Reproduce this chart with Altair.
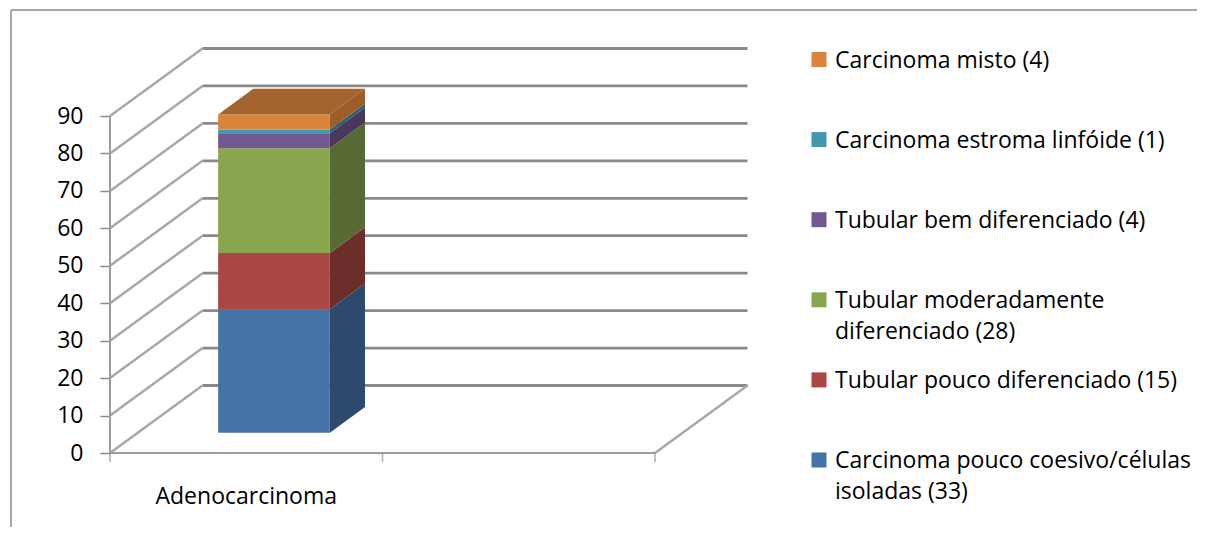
import altair as alt
import pandas as pd

# ---------------- data ----------------
CATEGORIES = ["Adenocarcinoma", ""]          # the floor holds two category slots, only the first has data
SERIES = [
    "Carcinoma pouco coesivo/células isoladas",
    "Tubular pouco diferenciado",
    "Tubular moderadamente diferenciado",
    "Tubular bem diferenciado",
    "Carcinoma estroma linfóide",
    "Carcinoma misto",
]
VALUES = [33, 15, 28, 4, 1, 4]
LEGEND_NAMES = [
    "Carcinoma pouco coesivo/células\nisoladas",
    "Tubular pouco diferenciado",
    "Tubular moderadamente\ndiferenciado",
    "Tubular bem diferenciado",
    "Carcinoma estroma linfóide",
    "Carcinoma misto",
]
Y_TICKS = [0, 10, 20, 30, 40, 50, 60, 70, 80, 90]

# ---------------- style ----------------
FRONT = ["#4572A7", "#AA4643", "#89A54E", "#71588F", "#4198AF", "#DB843D"]
SIDE = ["#2D4A6E", "#6C2D2B", "#586A33", "#48395C", "#2A6272", "#9C5D2A"]
TOP = "#A5632D"
FONT = "Open Sans"
FS = 23

# ---------------- layout (pixels) ----------------
W, H = 1189, 519
X0_PX, SLOT_PX = 102, 272.5          # front-left corner of the floor, width of one category slot
Y0_PX, UNIT_PX = 445, 3.7444         # value 0 on the front plane, pixels per unit
DEPTH_X_PX, DEPTH_Y_PX = 92.5, 67.5  # oblique depth shift of the back wall
BAR_W, D1, D2 = 0.41, 0.30, 0.68     # bar width (slot fraction), front/back depth fraction

N = len(CATEGORIES)
DX = DEPTH_X_PX / SLOT_PX
DY = DEPTH_Y_PX / UNIT_PX
xs = alt.Scale(domain=[-X0_PX / SLOT_PX, (W - X0_PX) / SLOT_PX], nice=False, zero=False)
ys = alt.Scale(domain=[(Y0_PX - H) / UNIT_PX, Y0_PX / UNIT_PX], nice=False, zero=False)

Y_AXIS = alt.Axis(values=Y_TICKS, offset=-X0_PX, domain=False, grid=False, ticks=True,
                  tickSize=10, tickColor="#8c8c8c", tickWidth=1.5, labelPadding=17,
                  labelFont=FONT, labelFontSize=FS, labelColor="#000000", title=None)


def X(f):
    return alt.X(f, scale=xs, axis=None)


def Y(f):
    return alt.Y(f, scale=ys, axis=Y_AXIS)


# ---------------- walls & floor ----------------
grid = pd.DataFrame({"v": Y_TICKS})
grid["x0"] = 0.0
grid["xa"] = DX
grid["xb"] = N + DX
grid["yb"] = grid["v"] + DY

back_grid = alt.Chart(grid).mark_rule(color="#8a8a8a", strokeWidth=2.8).encode(
    x=X("xa:Q"), x2="xb:Q", y=Y("yb:Q"))
left_wall = alt.Chart(grid).mark_rule(color="#a8a8a8", strokeWidth=2.5).encode(
    x=X("x0:Q"), x2="xa:Q", y=Y("v:Q"), y2="yb:Q")

floor = pd.DataFrame({"xa": [0.0], "xb": [float(N)], "xc": [N + DX], "y0": [0.0], "yc": [DY],
                      "ytop": [float(max(Y_TICKS))]})
floor_front = alt.Chart(floor).mark_rule(color="#9c9c9c", strokeWidth=2).encode(
    x=X("xa:Q"), x2="xb:Q", y=Y("y0:Q"))
floor_right = alt.Chart(floor).mark_rule(color="#a8a8a8", strokeWidth=2.5).encode(
    x=X("xb:Q"), x2="xc:Q", y=Y("y0:Q"), y2="yc:Q")
front_axis = alt.Chart(floor).mark_rule(color="#9c9c9c", strokeWidth=2).encode(
    x=X("xa:Q"), y=Y("y0:Q"), y2="ytop:Q")

cat_ticks = alt.Chart(pd.DataFrame({"s": list(range(N + 1)), "y0": 0.0})).mark_tick(
    orient="vertical", size=9, thickness=1.5, yOffset=4.5, color="#8c8c8c").encode(
    x=X("s:Q"), y=Y("y0:Q"))

cat_labels = alt.Chart(pd.DataFrame({"s": [i + 0.5 for i in range(N)], "label": CATEGORIES,
                                     "y0": 0.0})).mark_text(
    align="center", baseline="alphabetic", dy=51, font=FONT, fontSize=FS, color="#000000").encode(
    x=X("s:Q"), y=Y("y0:Q"), text="label:N")

# ---------------- 3-D stacked bar ----------------
c = 0.5  # centre of the first category slot
xl, xr = c - BAR_W / 2, c + BAR_W / 2
front_rows, side_rows = [], []
b = 0.0
for name, v, fc, sc in zip(SERIES, VALUES, FRONT, SIDE):
    t = b + v
    front_rows.append({"serie": name, "x": xl + D1 * DX, "x2": xr + D1 * DX,
                       "y": b + D1 * DY, "y2": t + D1 * DY, "col": fc})
    side_rows.append({"serie": name, "x": xr + D1 * DX, "lo": b + D1 * DY, "hi": t + D1 * DY, "col": sc})
    side_rows.append({"serie": name, "x": xr + D2 * DX, "lo": b + D2 * DY, "hi": t + D2 * DY, "col": sc})
    b = t
T = b
top_rows = pd.DataFrame({
    "x": [xl + D1 * DX, xl + D2 * DX, xr + D1 * DX, xr + D2 * DX],
    "lo": [T + D1 * DY, T + D1 * DY, T + D1 * DY, T + D2 * DY],
    "hi": [T + D1 * DY, T + D2 * DY, T + D2 * DY, T + D2 * DY],
})

sides = alt.Chart(pd.DataFrame(side_rows)).mark_area(opacity=1).encode(
    x=X("x:Q"), y=Y("lo:Q"), y2="hi:Q",
    color=alt.Color("col:N", scale=None), detail="serie:N")
fronts = alt.Chart(pd.DataFrame(front_rows)).mark_rect().encode(
    x=X("x:Q"), x2="x2:Q", y=Y("y:Q"), y2="y2:Q",
    color=alt.Color("col:N", scale=None))
top = alt.Chart(top_rows).mark_area(color=TOP, opacity=1).encode(
    x=X("x:Q"), y=Y("lo:Q"), y2="hi:Q")

# ---------------- chart frame ----------------
one = pd.DataFrame({"a": [0]})
frame_left = alt.Chart(one).mark_rule(color="#8a8a8a", strokeWidth=1.5).encode(
    x=alt.value(3), y=alt.value(2), y2=alt.value(H))
frame_top = alt.Chart(one).mark_rule(color="#8a8a8a", strokeWidth=1.5).encode(
    x=alt.value(3), x2=alt.value(W), y=alt.value(2))

main = alt.layer(back_grid, left_wall, floor_front, floor_right, front_axis, cat_ticks,
                 cat_labels, sides, fronts, top)

# ---------------- legend (top = last series) ----------------
leg = pd.DataFrame({"serie": SERIES,
                    "label": [f"{n} ({v})" for n, v in zip(LEGEND_NAMES, VALUES)],
                    "col": FRONT})
leg_y = alt.Y("serie:N", scale=alt.Scale(type="point", domain=SERIES[::-1], range=[51.5, 452],
                                         padding=0), axis=None)
leg_sq = alt.Chart(leg).mark_square(size=225, opacity=1).encode(
    x=alt.value(811), y=leg_y, color=alt.Color("col:N", scale=None))
leg_tx = alt.Chart(leg).mark_text(align="left", baseline="alphabetic", dy=8, font=FONT,
                                  fontSize=FS, lineBreak="\n", lineHeight=31, color="#000000").encode(
    x=alt.value(827), y=leg_y, text="label:N")
legend = alt.layer(leg_sq, leg_tx)

chart = alt.layer(frame_left, frame_top, main, legend).resolve_scale(y="independent").properties(
    width=W, height=H, autosize=alt.AutoSizeParams(type="none"), padding=0, background="white"
).configure_view(stroke="transparent", strokeWidth=0)

chart.save("out.html", embed_options={"renderer": "svg", "actions": False})
